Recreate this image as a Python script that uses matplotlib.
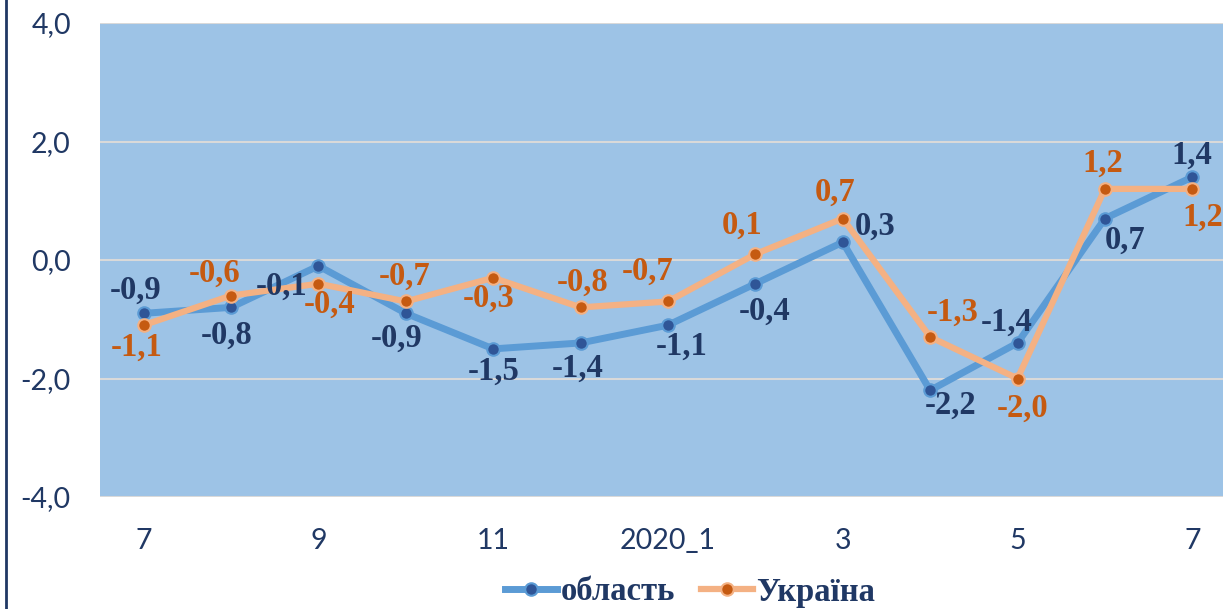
import matplotlib.pyplot as plt
from matplotlib.lines import Line2D

# months from July 2019 to July 2020
categories = ["7", "8", "9", "10", "11", "12", "2020_1", "2", "3", "4", "5", "6", "7"]
oblast = [-0.9, -0.8, -0.1, -0.9, -1.5, -1.4, -1.1, -0.4, 0.3, -2.2, -1.4, 0.7, 1.4]
ukraine = [-1.1, -0.6, -0.4, -0.7, -0.3, -0.8, -0.7, 0.1, 0.7, -1.3, -2.0, 1.2, 1.2]
y_ticks = [-4.0, -2.0, 0.0, 2.0, 4.0]

# label offsets in pixels (dx, dy)
oblast_off = [(-8, 23), (-4, -28), (-37, -20), (-9, -25), (0, -22), (-3, -25), (14, -21),
              (9, -28), (32, 16), (20, -15), (-11, 21), (20, -22), (0, 22)]
ukraine_off = [(-7, -22), (-16, 22), (11, -21), (-1, 25), (-5, -20), (2, 25), (-20, 30),
               (-13, 29), (-8, 26), (23, 25), (5, -30), (-2, 26), (10, -28)]

NAVY = "#203864"
ORANGE_TXT = "#C55A11"

fig = plt.figure(figsize=(12.23, 6.09), dpi=100)
ax = fig.add_axes([100 / 1223, 1 - 497 / 609, 1136 / 1223, 474 / 609])
ax.set_facecolor("#9DC3E6")

x = list(range(len(categories)))
ax.plot(x, oblast, "-o", color="#5B9BD5", lw=5, ms=9, mfc="#2F5597", mec="#5B9BD5",
        mew=1.5, label="область", zorder=3)
ax.plot(x, ukraine, "-o", color="#F4B183", lw=4.5, ms=9, mfc="#C55A11", mec="#F4B183",
        mew=1.5, label="Україна", zorder=4)

lab_font = dict(family="Liberation Serif", weight="bold", size=23.5)
for i, v in enumerate(oblast):
    ax.annotate(f"{v:.1f}".replace(".", ","), (i, v), xytext=oblast_off[i],
                textcoords="offset pixels", ha="center", va="center", color=NAVY,
                zorder=6, **lab_font)
for i, v in enumerate(ukraine):
    ax.annotate(f"{v:.1f}".replace(".", ","), (i, v), xytext=ukraine_off[i],
                textcoords="offset pixels", ha="center", va="center", color=ORANGE_TXT,
                zorder=6, **lab_font)

ax.set_xlim(-0.5, len(categories) - 0.5)
ax.set_ylim(-4, 4)
ax.set_yticks(y_ticks)
ax.set_yticklabels([f"{t:.1f}".replace(".", ",") for t in y_ticks])
ax.set_xticks(x[::2])
ax.set_xticklabels(categories[::2])
ax.grid(axis="y", color="#D9D9D9", lw=1.5, zorder=1)
ax.set_axisbelow(True)
for s in ax.spines.values():
    s.set_visible(False)
ax.tick_params(length=0, labelsize=20.5, labelcolor=NAVY)
ax.tick_params(axis="y", pad=21)
ax.tick_params(axis="x", pad=22)
for t in ax.get_xticklabels() + ax.get_yticklabels():
    t.set_family("Lato")

fig.add_artist(Line2D([6 / 1223, 6 / 1223], [0, 1], color=NAVY, lw=2))

fig.legend(loc="center", bbox_to_anchor=(690 / 1223, 1 - 592 / 609), ncol=2, frameon=False,
           prop=dict(family="Liberation Serif", weight="bold", size=23.5), labelcolor=NAVY,
           handlelength=1.6, handletextpad=0.1, columnspacing=0.8)

fig.savefig("out.png", dpi=100)
